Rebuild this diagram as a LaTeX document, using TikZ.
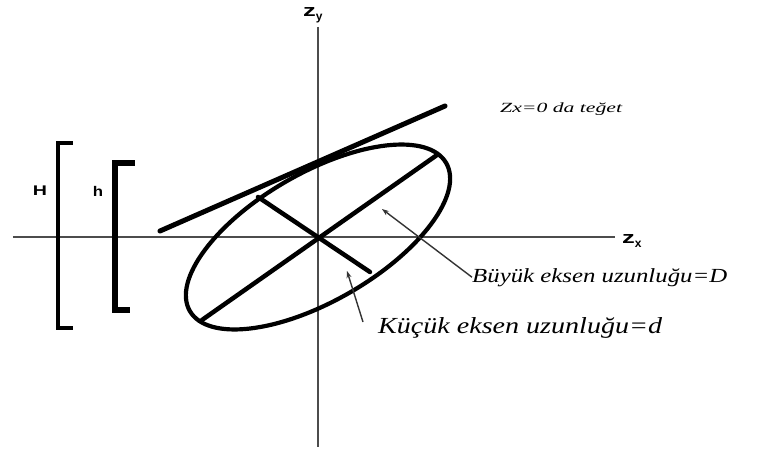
\documentclass[tikz,border=0pt]{standalone}
\usepackage{fontspec}
\setmainfont{Liberation Serif}
\newfontfamily\labfont{Liberation Sans}
\usetikzlibrary{arrows.meta}
\begin{document}
\begin{tikzpicture}[x=1pt,y=1pt,
  axisline/.style={draw=black!70, line width=1.8pt},
  heavy/.style={draw=black, line width=5pt, line cap=round},
  chord/.style={draw=black, line width=4.5pt, line cap=round},
  curve/.style={draw=black, line width=4.2pt},
  bracket/.style={draw=black, line width=4pt},
  pointer/.style={draw=black!80, line width=1.4pt, -{Stealth[length=7pt,width=5pt]}},
  axlab/.style={inner sep=0pt, font=\labfont\bfseries\fontsize{17}{17}\selectfont},
  hlab/.style={inner sep=0pt, font=\labfont\bfseries\fontsize{14}{14}\selectfont},
  note/.style={inner sep=0pt, font=\itshape\fontsize{14}{14}\selectfont},
  bignote/.style={inner sep=0pt, font=\itshape\fontsize{20}{20}\selectfont},
  hugenote/.style={inner sep=0pt, font=\itshape\fontsize{23}{23}\selectfont}]
\useasboundingbox (-318,-213) rectangle (448,237);
\fill[white] (-318,-213) rectangle (448,237);
% axes
\coordinate (O) at (0,0);
\coordinate (xl) at (-305,0);
\coordinate (xr) at (297,0);
\coordinate (yt) at (0,210);
\coordinate (yb) at (0,-210);
\draw[axisline] (xl) -- (xr);
\draw[axisline] (yt) -- (yb);
\node[axlab, anchor=base west] (zx) at (304,-6) {\scalebox{1.5}[1]{z}\raisebox{-4pt}{\fontsize{12}{12}\selectfont x}};
\node[axlab, anchor=base west] (zy) at (-15,220) {\scalebox{1.5}[1]{z}\raisebox{-4pt}{\fontsize{12}{12}\selectfont y}};
% brackets
\draw[bracket] (-245,94) -- (-260,94) -- (-260,-91) -- (-245,-91);
\draw[bracket, line width=6pt] (-183,74) -- (-203,74) -- (-203,-73) -- (-188,-73);
\node[hlab] (H) at (-278,46) {\scalebox{1.4}[1]{H}};
\node[hlab] (h) at (-220,46) {\scalebox{1.2}[1]{h}};
% ellipse and axes of it
\draw[curve, rotate=30] (O) ellipse [x radius=148, y radius=64];
\coordinate (M1) at (-116,-83);
\coordinate (M2) at (119,82);
\coordinate (m1) at (-60,40);
\coordinate (m2) at (52,-35);
\draw[chord] (M1) -- (M2);
\draw[chord] (m1) -- (m2);
% tangent line
\coordinate (T1) at (-158,6);
\coordinate (T2) at (127,131);
\draw[heavy] (T1) -- (T2);
% labels
\node[note, anchor=base west] (zt) at (182,124) {\scalebox{1.55}[1]{Zx=0 da teğet}};
\node[bignote, anchor=base west] (bu) at (154,-45) {\scalebox{1.24}[1]{Büyük eksen uzunluğu=D}};
\node[hugenote, anchor=base west] (ku) at (60,-96) {\scalebox{1.22}[1]{Küçük eksen uzunluğu=d}};
\coordinate (btip) at (64,28);
\coordinate (ktip) at (29,-34);
\coordinate (kstart) at (45,-85);
\draw[pointer] (bu.west) -- (btip);
\draw[pointer] (kstart) -- (ktip);
\end{tikzpicture}
\end{document}
